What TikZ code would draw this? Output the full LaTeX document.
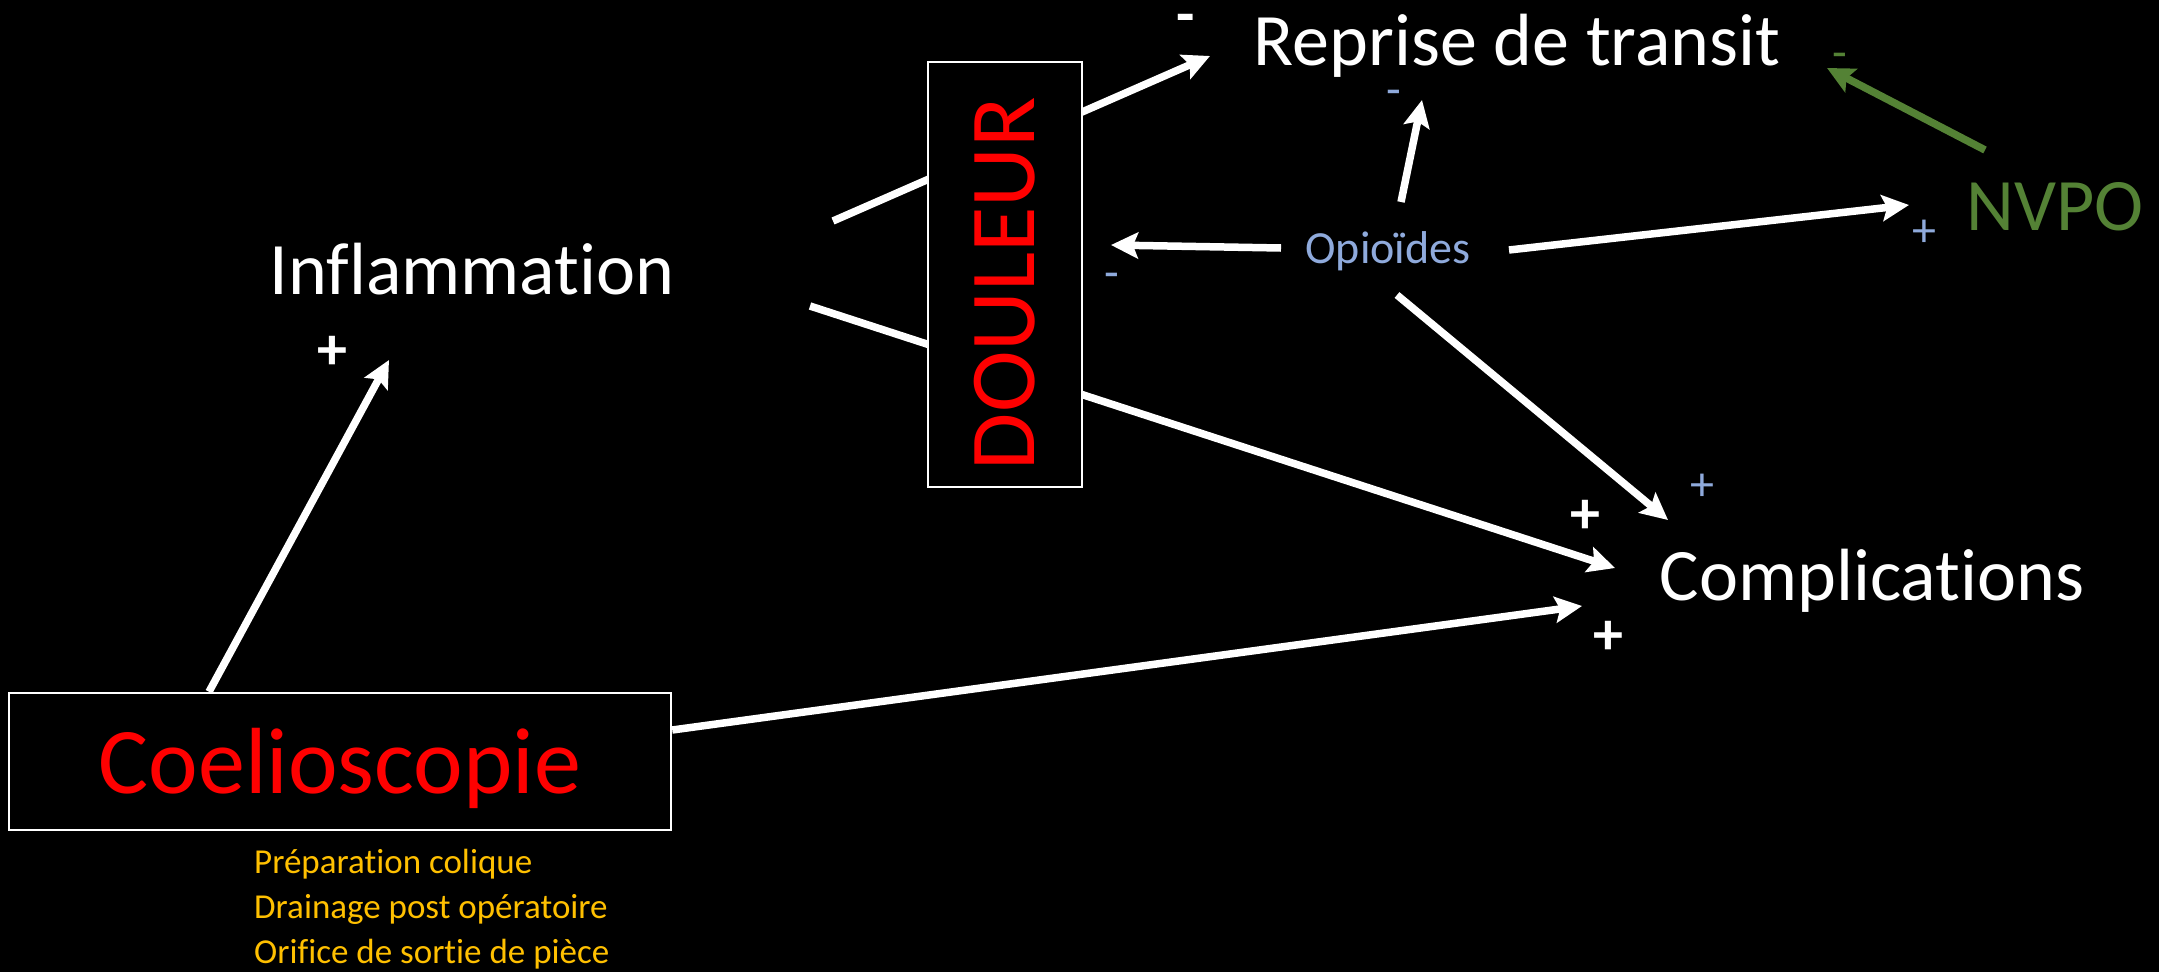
\documentclass[tikz,border=0pt]{standalone}
\usepackage{fontspec}
\setmainfont{Carlito}[Ligatures={NoCommon}]
\usetikzlibrary{arrows.meta, positioning}
\definecolor{opioblue}{RGB}{143, 170, 220}
\definecolor{nvpogreen}{RGB}{84, 130, 53}
\definecolor{listorange}{RGB}{255, 192, 0}
\definecolor{boxred}{RGB}{255, 0, 0}

\begin{document}
\begin{tikzpicture}[x=1pt, y=-1pt,
    arr/.style={line width=7.5pt, draw=white, -{Stealth[length=27pt, width=26pt, inset=5pt]}},
    lbl/.style={text=white, font=\fontsize{74}{88}\selectfont, anchor=base, inner sep=0pt},
    wsign/.style={text=white, font=\bfseries\fontsize{60}{70}\selectfont, inner sep=0pt},
    bsign/.style={text=opioblue, font=\fontsize{48}{56}\selectfont, inner sep=0pt}]

  % background
  \fill[black] (0,0) rectangle (2159,972);
  \useasboundingbox (0,0) rectangle (2159,972);

  % main labels
  \node[lbl] (infl) at (472,294) {Inflammation};
  \node[lbl] (reprise) at (1517,65) {Reprise de transit};
  \node[lbl] (compl) at (1872,600) {Complications};
  \node[lbl, text=nvpogreen] (nvpo) at (2055,230) {NVPO};
  \node[lbl, text=opioblue, font=\fontsize{46}{54}\selectfont] (opio) at (1388,263) {Opioïdes};

  % Coelioscopie
  \node[draw=white, line width=2.5pt, minimum width=662pt, minimum height=137pt, inner sep=0pt,
        text=boxred, font=\fontsize{94}{110}\selectfont, text height=63pt, text depth=0pt]
        (coel) at (340,761.5) {Coelioscopie};
  \node[text=listorange, font=\fontsize{35}{45}\selectfont, align=left, anchor=base west, inner sep=0pt]
        (gestes) at (254,963) {Préparation colique\\Drainage post opératoire\\Orifice de sortie de pièce};

  % arrows passing behind the pain box
  \draw[arr] ([shift={(361,-73)}]infl.base) -- ([shift={(-307,-9)}]reprise.base);
  \draw[arr] ([shift={(338,12)}]infl.base) -- ([shift={(-257,-32)}]compl.base);

  % DOULEUR
  \node[draw=white, line width=2pt, fill=black, minimum width=154pt, minimum height=425pt, inner sep=0pt]
        (douleur) at (1005,274.5) {};
  \node[rotate=90, text=boxred, font=\fontsize{93}{110}\selectfont, inner sep=0pt]
        (doultxt) at (1005,283.5) {DOULEUR};

  % other arrows
  \draw[arr] ([shift={(-131,0)}]coel.north) -- ([shift={(-83,66)}]infl.base);
  \draw[arr] ([shift={(0,-31.5)}]coel.east) -- ([shift={(-290,6)}]compl.base);
  \draw[arr] ([shift={(-107,-15)}]opio.base) -- ([shift={(106,-29.5)}]douleur.center);
  \draw[arr] ([shift={(13,-61)}]opio.base) -- ([shift={(-95,35)}]reprise.base);
  \draw[arr] ([shift={(121,-13)}]opio.base) -- ([shift={(-146,-25)}]nvpo.base);
  \draw[arr] ([shift={(9,32)}]opio.base) -- ([shift={(-204,-80)}]compl.base);
  \draw[arr, draw=nvpogreen] ([shift={(-70,-80)}]nvpo.base) -- ([shift={(310,3)}]reprise.base);

  % signs
  \node[wsign] (p1) at (332,353) {+};
  \node[wsign] (p2) at (1585,517) {+};
  \node[wsign] (p3) at (1608,638) {+};
  \node[bsign] (p4) at (1924,233) {+};
  \node[bsign] (p5) at (1702,487) {+};
  \node[wsign] (m1) at (1186,24) {-};
  \node[bsign] (m2) at (1394,98) {-};
  \node[bsign] (m3) at (1112,281) {-};
  \node[bsign, text=nvpogreen] (m4) at (1840,61) {-};
\end{tikzpicture}
\end{document}
